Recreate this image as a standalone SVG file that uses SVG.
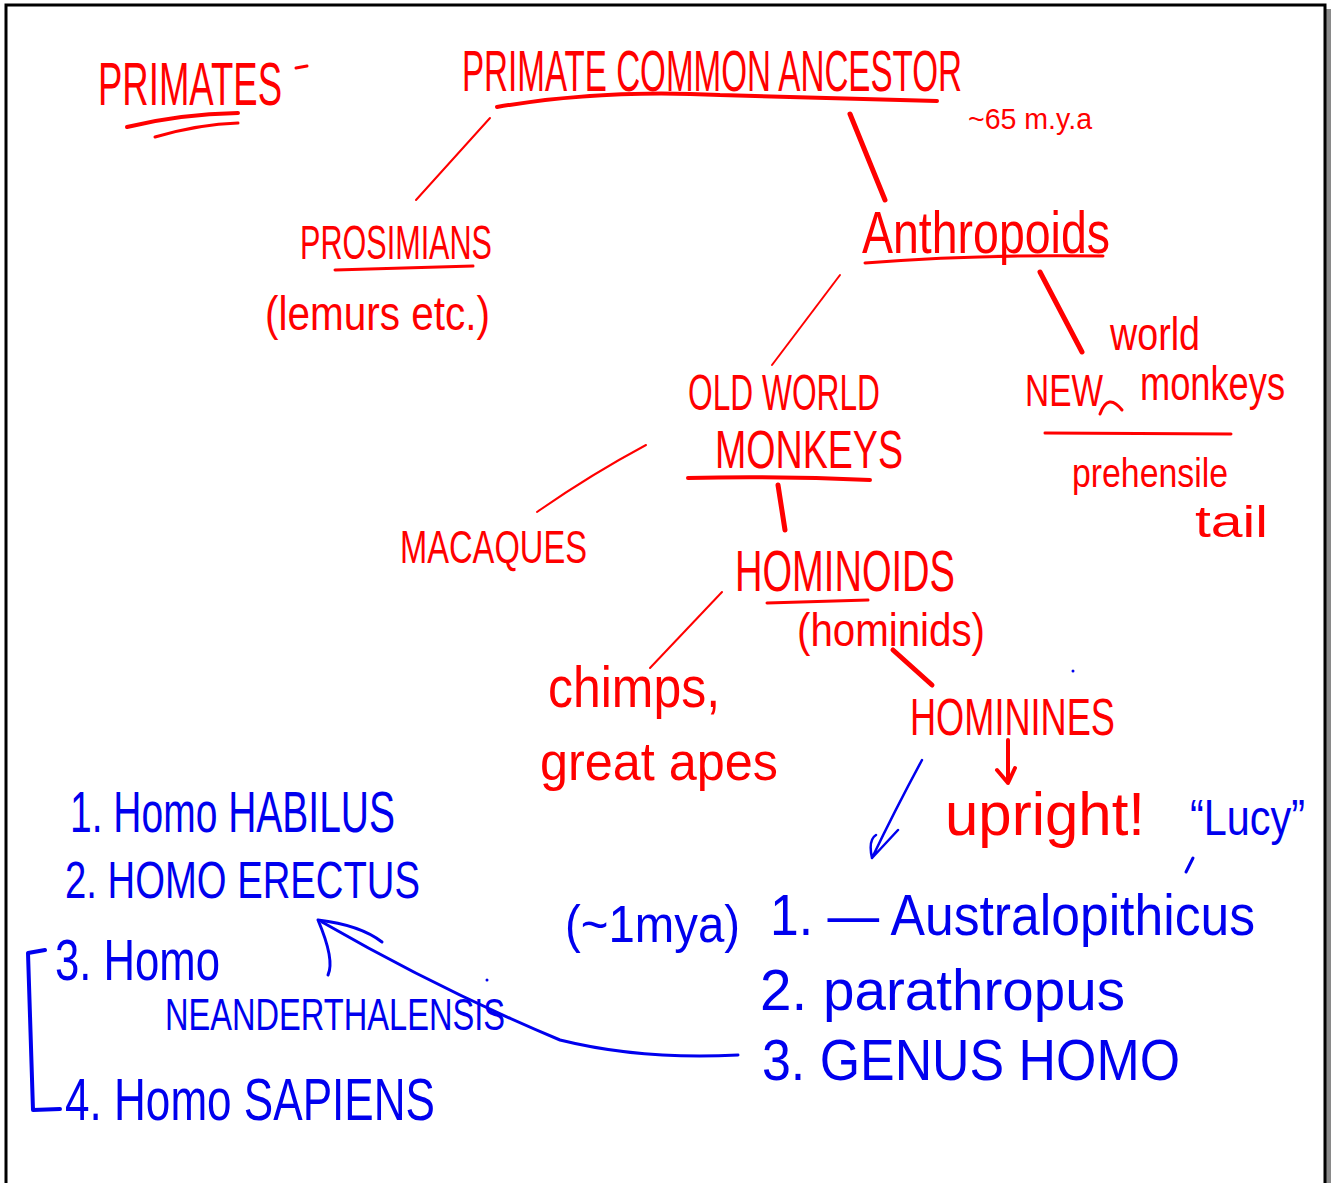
<svg xmlns="http://www.w3.org/2000/svg" width="1334" height="1183" viewBox="0 0 1334 1183">
<style>
.r{fill:#ff0000;font-family:"Liberation Sans",Arial,sans-serif}
.b{fill:#0000ee;font-family:"Liberation Sans",Arial,sans-serif}
.rl{stroke:#ff0000;fill:none;stroke-linecap:round;stroke-linejoin:round}
.bl{stroke:#0000ee;fill:none;stroke-linecap:round;stroke-linejoin:round}
</style>
<rect x="0" y="0" width="1334" height="1183" fill="#ffffff"/>
<g id="frame">
<rect x="1326" y="9" width="5" height="1174" fill="#8a8a8a"/>
<path d="M6 1183 V5 H1325 V1183" fill="none" stroke="#000" stroke-width="3"/>
</g>
<g id="title">
<text class="r" x="98" y="105" font-size="62" textLength="184" lengthAdjust="spacingAndGlyphs">PRIMATES</text>
<path class="rl" stroke-width="3" d="M296 68 L307 66"/>
<path class="rl" stroke-width="4" d="M127 127 Q180 114 238 113"/>
<path class="rl" stroke-width="3" d="M155 137 Q200 124 238 123"/>
</g>
<g id="ancestor">
<text class="r" x="462" y="91" font-size="58" textLength="500" lengthAdjust="spacingAndGlyphs">PRIMATE COMMON ANCESTOR</text>
<path class="rl" stroke-width="4" d="M497 107 Q600 89 720 95 Q850 99 937 101"/>
<text class="r" x="968" y="129" font-size="30" textLength="124" lengthAdjust="spacingAndGlyphs">~65 m.y.a</text>
</g>
<g id="prosimians">
<text class="r" x="300" y="259" font-size="48" textLength="192" lengthAdjust="spacingAndGlyphs">PROSIMIANS</text>
<path class="rl" stroke-width="3" d="M335 270 L473 266"/>
<text class="r" x="265" y="330" font-size="48" textLength="225" lengthAdjust="spacingAndGlyphs">(lemurs etc.)</text>
</g>
<g id="anthropoids">
<text class="r" x="862" y="253" font-size="60" textLength="248" lengthAdjust="spacingAndGlyphs">Anthropoids</text>
<path class="rl" stroke-width="3" d="M865 263 Q980 254 1103 256"/>
</g>
<g id="oldworld">
<text class="r" x="688" y="410" font-size="50" textLength="192" lengthAdjust="spacingAndGlyphs">OLD WORLD</text>
<text class="r" x="715" y="468" font-size="54" textLength="188" lengthAdjust="spacingAndGlyphs">MONKEYS</text>
<path class="rl" stroke-width="4" d="M688 478 Q780 476 870 480"/>
</g>
<g id="newworld">
<text class="r" x="1110" y="350" font-size="46" textLength="90" lengthAdjust="spacingAndGlyphs">world</text>
<text class="r" x="1025" y="406" font-size="44" textLength="78" lengthAdjust="spacingAndGlyphs">NEW</text>
<path class="rl" stroke-width="3" d="M1100 414 Q1108 392 1122 410"/>
<text class="r" x="1140" y="400" font-size="48" textLength="145" lengthAdjust="spacingAndGlyphs">monkeys</text>
<path class="rl" stroke-width="3" d="M1045 433 L1231 434"/>
<text class="r" x="1072" y="487" font-size="40" textLength="156" lengthAdjust="spacingAndGlyphs">prehensile</text>
<text class="r" x="1195" y="537" font-size="44" textLength="73" lengthAdjust="spacingAndGlyphs">tail</text>
</g>
<g id="macaques">
<text class="r" x="400" y="563" font-size="46" textLength="187" lengthAdjust="spacingAndGlyphs">MACAQUES</text>
</g>
<g id="hominoids">
<text class="r" x="735" y="591" font-size="58" textLength="220" lengthAdjust="spacingAndGlyphs">HOMINOIDS</text>
<path class="rl" stroke-width="3" d="M767 603 L868 600"/>
<text class="r" x="797" y="646" font-size="46" textLength="188" lengthAdjust="spacingAndGlyphs">(hominids)</text>
</g>
<g id="chimps">
<text class="r" x="548" y="707" font-size="58" textLength="172" lengthAdjust="spacingAndGlyphs">chimps,</text>
<text class="r" x="540" y="780" font-size="54" textLength="238" lengthAdjust="spacingAndGlyphs">great apes</text>
</g>
<g id="hominines">
<text class="r" x="910" y="735" font-size="52" textLength="205" lengthAdjust="spacingAndGlyphs">HOMININES</text>
<text class="r" x="945" y="835" font-size="62" textLength="200" lengthAdjust="spacingAndGlyphs">upright!</text>
</g>
<g id="hominins">
<text class="b" x="1190" y="835" font-size="50" textLength="115" lengthAdjust="spacingAndGlyphs">“Lucy”</text>
<text class="b" x="565" y="942" font-size="52" textLength="175" lengthAdjust="spacingAndGlyphs">(~1mya)</text>
<text class="b" x="770" y="935" font-size="58" textLength="485" lengthAdjust="spacingAndGlyphs">1. — Australopithicus</text>
<text class="b" x="760" y="1010" font-size="58" textLength="365" lengthAdjust="spacingAndGlyphs">2. parathropus</text>
<text class="b" x="762" y="1080" font-size="58" textLength="418" lengthAdjust="spacingAndGlyphs">3. GENUS HOMO</text>
</g>
<g id="homo-species">
<text class="b" x="70" y="832" font-size="58" textLength="325" lengthAdjust="spacingAndGlyphs">1. Homo HABILUS</text>
<text class="b" x="65" y="898" font-size="52" textLength="355" lengthAdjust="spacingAndGlyphs">2. HOMO ERECTUS</text>
<text class="b" x="55" y="980" font-size="58" textLength="165" lengthAdjust="spacingAndGlyphs">3. Homo</text>
<text class="b" x="165" y="1030" font-size="44" textLength="340" lengthAdjust="spacingAndGlyphs">NEANDERTHALENSIS</text>
<text class="b" x="65" y="1120" font-size="60" textLength="370" lengthAdjust="spacingAndGlyphs">4. Homo SAPIENS</text>
<path class="bl" stroke-width="4" d="M45 950 L28 953 L33 1110 L60 1109"/>
</g>
<g id="connectors">
<path class="rl" stroke-width="2" d="M490 118 L416 200"/>
<path class="rl" stroke-width="5" d="M850 114 L885 200"/>
<path class="rl" stroke-width="2" d="M840 275 L772 365"/>
<path class="rl" stroke-width="5" d="M1040 272 L1082 352"/>
<path class="rl" stroke-width="2" d="M646 445 Q590 475 537 512"/>
<path class="rl" stroke-width="5" d="M778 485 L785 530"/>
<path class="rl" stroke-width="2" d="M722 592 L650 668"/>
<path class="rl" stroke-width="5" d="M893 650 L932 685"/>
<path class="rl" stroke-width="4" d="M1008 740 L1008 783 M997 770 L1008 783 L1015 768"/>
<path class="bl" stroke-width="2.5" d="M922 760 Q895 810 872 858 M872 858 Q868 840 876 835 M872 858 L898 830"/>
<path class="bl" stroke-width="3" d="M738 1055 Q640 1060 560 1040 Q440 990 322 922"/>
<path class="bl" stroke-width="3" d="M318 920 Q335 960 328 975 M318 920 Q360 925 382 942"/>
<path class="bl" stroke-width="3" d="M1186 872 L1193 858"/>
<circle cx="487" cy="980" r="1.5" fill="#0000ee"/>
<circle cx="1073" cy="671" r="1.5" fill="#0000ee"/>
</g>
</svg>
